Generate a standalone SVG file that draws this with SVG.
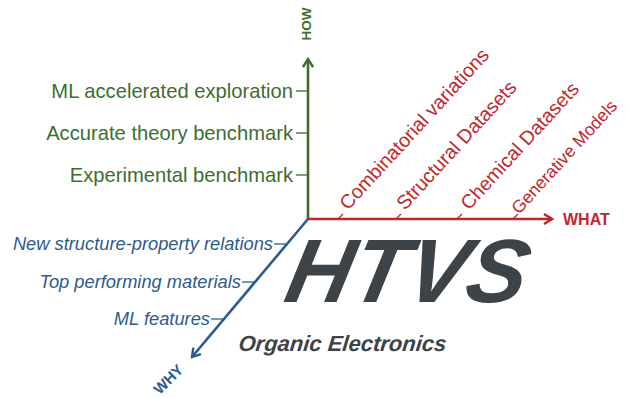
<svg xmlns="http://www.w3.org/2000/svg" width="632" height="398" viewBox="0 0 632 398">
<style>
.g{fill:#3e6d2f;font-family:"Liberation Sans",Arial,sans-serif;font-size:20.2px;text-anchor:end}
.b{fill:#2d5b8e;font-family:"Liberation Sans",Arial,sans-serif;font-size:18.3px;font-style:italic;text-anchor:end}
.r{fill:#c1272d;font-family:"Liberation Sans",Arial,sans-serif;font-size:19.6px}
.r2{font-size:17.5px}
.ax{font-family:"Liberation Sans",Arial,sans-serif;font-weight:bold}
.dk{fill:#3e4347;font-family:"Liberation Sans",Arial,sans-serif;font-weight:bold;font-style:italic}
.tg{stroke:#3e6d2f;stroke-width:1.3}
.tb{stroke:#2d5b8e;stroke-width:1.3}
.tr{stroke:#c1272d;stroke-width:1.3}
</style>
<defs>
<marker id="ag" viewBox="0 0 12 12" refX="10" refY="6" markerWidth="12" markerHeight="12" markerUnits="userSpaceOnUse" orient="auto"><path d="M2,1 L10,6 L2,11" fill="none" stroke="#3e6d2f" stroke-width="2.4"/></marker>
<marker id="ar" viewBox="0 0 12 12" refX="10" refY="6" markerWidth="12" markerHeight="12" markerUnits="userSpaceOnUse" orient="auto"><path d="M2,1 L10,6 L2,11" fill="none" stroke="#c1272d" stroke-width="2.4"/></marker>
<marker id="ab" viewBox="0 0 12 12" refX="10" refY="6" markerWidth="12" markerHeight="12" markerUnits="userSpaceOnUse" orient="auto"><path d="M2,1 L10,6 L2,11" fill="none" stroke="#2d5b8e" stroke-width="2.4"/></marker>
</defs>
<g id="connectors" fill="none">
<line x1="308" y1="219" x2="308" y2="59" stroke="#3e6d2f" stroke-width="2.6" marker-end="url(#ag)"/>
<line x1="307" y1="219" x2="552" y2="219" stroke="#c1272d" stroke-width="2.6" marker-end="url(#ar)"/>
<line x1="308" y1="219" x2="192" y2="357" stroke="#2d5b8e" stroke-width="2.6" marker-end="url(#ab)"/>
</g>
<g id="how-axis">
<text class="ax" fill="#3e6d2f" font-size="13.5" text-anchor="middle" transform="translate(311,24) rotate(-90)">HOW</text>
<line class="tg" x1="296" y1="91" x2="307" y2="91"/>
<line class="tg" x1="296" y1="133" x2="307" y2="133"/>
<line class="tg" x1="296" y1="175" x2="307" y2="175"/>
<text class="g" x="293" y="98">ML accelerated exploration</text>
<text class="g" x="293" y="140">Accurate theory benchmark</text>
<text class="g" x="293" y="182">Experimental benchmark</text>
</g>
<g id="what-axis">
<text class="ax" fill="#c1272d" font-size="16" x="563" y="225">WHAT</text>
<line class="tr" x1="338" y1="219" x2="343" y2="214"/>
<line class="tr" x1="396" y1="219" x2="401" y2="214"/>
<line class="tr" x1="457" y1="219" x2="462" y2="214"/>
<line class="tr" x1="513" y1="219" x2="518" y2="214"/>
<text class="r" transform="translate(348,211) rotate(-47.5)">Combinatorial variations</text>
<text class="r" transform="translate(405,211) rotate(-47.5)">Structural Datasets</text>
<text class="r" transform="translate(469,211) rotate(-47.5)">Chemical Datasets</text>
<text class="r r2" transform="translate(519,215) rotate(-47.5)">Generative Models</text>
</g>
<g id="why-axis">
<text class="ax" fill="#2d5b8e" font-size="15" text-anchor="middle" transform="translate(172,383) rotate(-45)">WHY</text>
<line class="tb" x1="274" y1="244" x2="287" y2="244"/>
<line class="tb" x1="242" y1="282" x2="255" y2="282"/>
<line class="tb" x1="211" y1="319" x2="224" y2="319"/>
<text class="b" x="273" y="250">New structure-property relations</text>
<text class="b" x="241" y="288">Top performing materials</text>
<text class="b" x="210" y="325">ML features</text>
</g>
<g id="htvs">
<text class="dk" font-size="90" transform="translate(282,302) skewX(-12)">HTVS</text>
</g>
<g id="organic">
<text class="dk" font-size="22" transform="translate(238,351) skewX(-6)">Organic Electronics</text>
</g>
</svg>
